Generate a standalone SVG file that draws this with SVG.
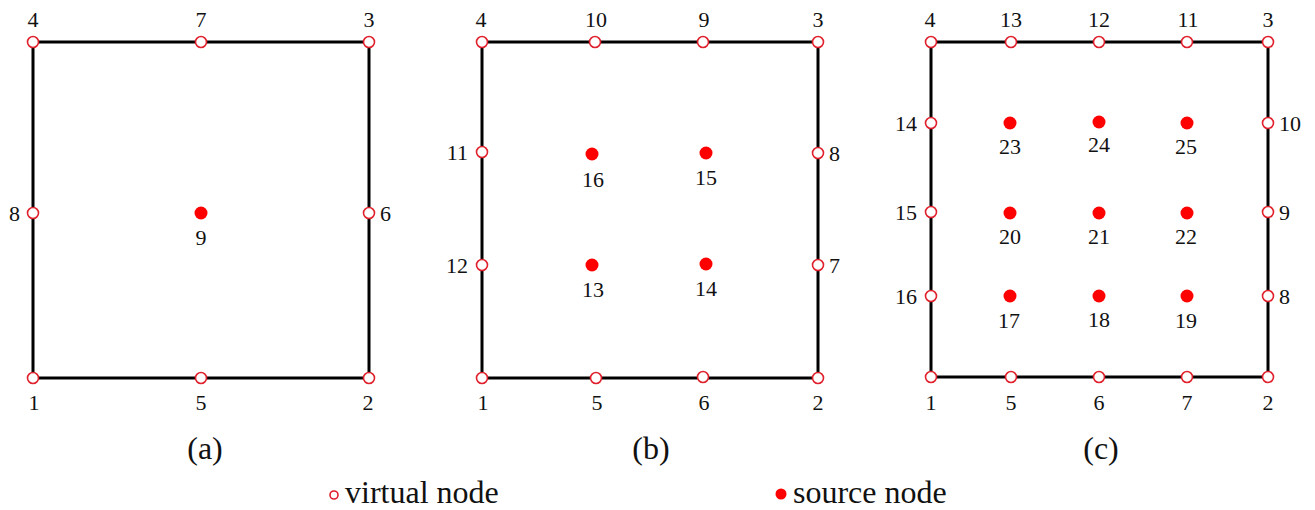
<svg xmlns="http://www.w3.org/2000/svg" width="1315" height="510" viewBox="0 0 1315 510">
<style>
.edge{stroke:#000;stroke-width:3;fill:none}
.v{fill:#fff;stroke:#e0202c;stroke-width:1.6}
.s{fill:#f00;stroke:none}
text{font-family:"Liberation Serif","Times New Roman",serif;fill:#111}
.lb{font-size:22px}
.c{text-anchor:middle}
.r{text-anchor:end}
.cap{font-size:32px;text-anchor:middle}
.leg{font-size:32px}
</style>
<g id="connectors">
<rect class="edge" x="33" y="42" width="336" height="336"/>
<rect class="edge" x="482" y="42" width="336" height="336"/>
<rect class="edge" x="931" y="42" width="337" height="335"/>
</g>
<g id="panel-a">
<g id="a-n4"><circle class="v" cx="33" cy="42" r="5.5"/><text class="lb c" x="33" y="27">4</text></g>
<g id="a-n7"><circle class="v" cx="201" cy="42" r="5.5"/><text class="lb c" x="201" y="27">7</text></g>
<g id="a-n3"><circle class="v" cx="369" cy="42" r="5.5"/><text class="lb c" x="369" y="27">3</text></g>
<g id="a-n8"><circle class="v" cx="33" cy="213" r="5.5"/><text class="lb r" x="20" y="221">8</text></g>
<g id="a-n6"><circle class="v" cx="369" cy="213" r="5.5"/><text class="lb" x="380" y="221">6</text></g>
<g id="a-n9"><circle class="s" cx="201" cy="213" r="6.5"/><text class="lb c" x="201" y="245">9</text></g>
<g id="a-n1"><circle class="v" cx="33" cy="378" r="5.5"/><text class="lb c" x="34" y="410">1</text></g>
<g id="a-n5"><circle class="v" cx="201" cy="378" r="5.5"/><text class="lb c" x="201" y="410">5</text></g>
<g id="a-n2"><circle class="v" cx="369" cy="378" r="5.5"/><text class="lb c" x="368" y="410">2</text></g>
<text class="cap" x="205" y="459">(a)</text>
</g>
<g id="panel-b">
<g id="b-n4"><circle class="v" cx="482" cy="42" r="5.5"/><text class="lb c" x="481" y="27">4</text></g>
<g id="b-n10"><circle class="v" cx="595" cy="42" r="5.5"/><text class="lb c" x="596" y="27">10</text></g>
<g id="b-n9"><circle class="v" cx="703" cy="42" r="5.5"/><text class="lb c" x="704" y="27">9</text></g>
<g id="b-n3"><circle class="v" cx="818" cy="42" r="5.5"/><text class="lb c" x="818" y="27">3</text></g>
<g id="b-n11"><circle class="v" cx="482" cy="152" r="5.5"/><text class="lb r" x="468" y="160">11</text></g>
<g id="b-n12"><circle class="v" cx="482" cy="265" r="5.5"/><text class="lb r" x="468" y="273">12</text></g>
<g id="b-n8"><circle class="v" cx="818" cy="153" r="5.5"/><text class="lb" x="829" y="161">8</text></g>
<g id="b-n7"><circle class="v" cx="818" cy="265" r="5.5"/><text class="lb" x="829" y="273">7</text></g>
<g id="b-n16"><circle class="s" cx="592" cy="154" r="6.5"/><text class="lb c" x="593" y="187">16</text></g>
<g id="b-n15"><circle class="s" cx="706" cy="153" r="6.5"/><text class="lb c" x="706" y="185">15</text></g>
<g id="b-n13"><circle class="s" cx="592" cy="265" r="6.5"/><text class="lb c" x="593" y="297">13</text></g>
<g id="b-n14"><circle class="s" cx="706" cy="264" r="6.5"/><text class="lb c" x="706" y="296">14</text></g>
<g id="b-n1"><circle class="v" cx="482" cy="378" r="5.5"/><text class="lb c" x="483" y="410">1</text></g>
<g id="b-n5"><circle class="v" cx="596" cy="378" r="5.5"/><text class="lb c" x="597" y="410">5</text></g>
<g id="b-n6"><circle class="v" cx="703" cy="377" r="5.5"/><text class="lb c" x="704" y="410">6</text></g>
<g id="b-n2"><circle class="v" cx="818" cy="378" r="5.5"/><text class="lb c" x="818" y="410">2</text></g>
<text class="cap" x="651" y="459">(b)</text>
</g>
<g id="panel-c">
<g id="c-n4"><circle class="v" cx="931" cy="42" r="5.5"/><text class="lb c" x="930" y="27">4</text></g>
<g id="c-n13"><circle class="v" cx="1011" cy="42" r="5.5"/><text class="lb c" x="1011" y="27">13</text></g>
<g id="c-n12"><circle class="v" cx="1099" cy="42" r="5.5"/><text class="lb c" x="1099" y="27">12</text></g>
<g id="c-n11"><circle class="v" cx="1187" cy="42" r="5.5"/><text class="lb c" x="1188" y="27">11</text></g>
<g id="c-n3"><circle class="v" cx="1268" cy="42" r="5.5"/><text class="lb c" x="1268" y="27">3</text></g>
<g id="c-n14"><circle class="v" cx="931" cy="123" r="5.5"/><text class="lb r" x="917" y="131">14</text></g>
<g id="c-n15"><circle class="v" cx="931" cy="212" r="5.5"/><text class="lb r" x="917" y="220">15</text></g>
<g id="c-n16"><circle class="v" cx="931" cy="296" r="5.5"/><text class="lb r" x="917" y="304">16</text></g>
<g id="c-n10"><circle class="v" cx="1268" cy="123" r="5.5"/><text class="lb" x="1279" y="131">10</text></g>
<g id="c-n9"><circle class="v" cx="1268" cy="212" r="5.5"/><text class="lb" x="1279" y="220">9</text></g>
<g id="c-n8"><circle class="v" cx="1268" cy="296" r="5.5"/><text class="lb" x="1279" y="304">8</text></g>
<g id="c-n23"><circle class="s" cx="1010" cy="123" r="6.5"/><text class="lb c" x="1010" y="154">23</text></g>
<g id="c-n24"><circle class="s" cx="1099" cy="122" r="6.5"/><text class="lb c" x="1099" y="152">24</text></g>
<g id="c-n25"><circle class="s" cx="1187" cy="123" r="6.5"/><text class="lb c" x="1186" y="154">25</text></g>
<g id="c-n20"><circle class="s" cx="1010" cy="213" r="6.5"/><text class="lb c" x="1010" y="244">20</text></g>
<g id="c-n21"><circle class="s" cx="1099" cy="213" r="6.5"/><text class="lb c" x="1099" y="244">21</text></g>
<g id="c-n22"><circle class="s" cx="1187" cy="213" r="6.5"/><text class="lb c" x="1186" y="244">22</text></g>
<g id="c-n17"><circle class="s" cx="1010" cy="296" r="6.5"/><text class="lb c" x="1009" y="328">17</text></g>
<g id="c-n18"><circle class="s" cx="1099" cy="296" r="6.5"/><text class="lb c" x="1099" y="327">18</text></g>
<g id="c-n19"><circle class="s" cx="1187" cy="296" r="6.5"/><text class="lb c" x="1186" y="328">19</text></g>
<g id="c-n1"><circle class="v" cx="931" cy="377" r="5.5"/><text class="lb c" x="931" y="410">1</text></g>
<g id="c-n5"><circle class="v" cx="1011" cy="377" r="5.5"/><text class="lb c" x="1011" y="410">5</text></g>
<g id="c-n6"><circle class="v" cx="1099" cy="377" r="5.5"/><text class="lb c" x="1099" y="410">6</text></g>
<g id="c-n7"><circle class="v" cx="1187" cy="377" r="5.5"/><text class="lb c" x="1187" y="410">7</text></g>
<g id="c-n2"><circle class="v" cx="1268" cy="377" r="5.5"/><text class="lb c" x="1268" y="410">2</text></g>
<text class="cap" x="1101" y="459">(c)</text>
</g>
<g id="legend">
<g id="legend-virtual"><circle class="v" cx="334" cy="495" r="4"/><text class="leg" x="345" y="503">virtual node</text></g>
<g id="legend-source"><circle class="s" cx="781" cy="494" r="5.5"/><text class="leg" x="793" y="503">source node</text></g>
</g>
</svg>
